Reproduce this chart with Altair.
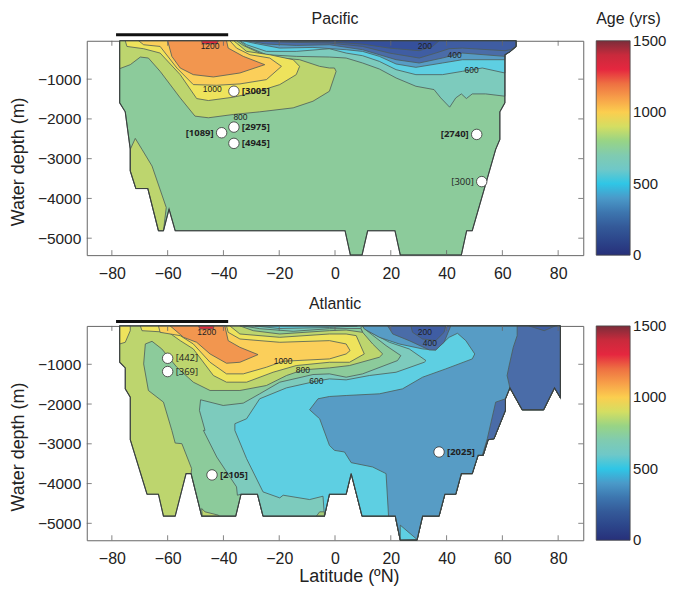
import altair as alt
import pandas as pd

XT = [-80, -60, -40, -20, 0, 20, 40, 60, 80]
YT = [-1000, -2000, -3000, -4000, -5000]
XDOM = [-89, 89]
YDOM = [-5426, -35]

C_GREEN = "#8ccb9b"; C_YG = "#bdd56e"; C_YEL = "#eee35c"; C_LOR = "#fbcf5a"
C_ORG = "#f2964f"; C_RED = "#e62b3c"; C_TEAL = "#7dcbbd"; C_CYAN = "#5ecfe2"
C_BLUE = "#579cc5"; C_B3 = "#4a6ca8"; C_B2 = "#3f5da3"; C_B1 = "#35509c"

BAR_STOPS = [0, 250, 400, 500, 600, 700, 850, 950, 1050, 1150, 1300, 1400, 1500]
BAR_COLS = ["#27307a", "#3a64a0", "#4a9ac9", "#2fc6e6", "#6fc8c8", "#80cbb0", "#b5d46b",
            "#f7e75a", "#fbb54a", "#f08a4b", "#e5273f", "#c92a3c", "#7b2d3a"]
BAR_TICKS = [0, 500, 1000, 1500]

# ---------- Pacific ----------
PR = [(60.9, -386), (62.9, -302), (64.9, -177), (64.9, -35)]
P_OUT = [(-77.2, -35), (-77.2, -1596), (-75.2, -1822), (-73.4, -2767), (-73.4, -3310), (-71.4, -3752),
         (-67.1, -3752), (-63.3, -4813), (-61.5, -4813), (-59.5, -4270), (-57.3, -4813), (3.6, -4813),
         (5.5, -5422), (9.7, -5422), (11.7, -4813), (21.5, -4813), (23.4, -5422), (45.3, -5422),
         (47.2, -4813), (49.2, -4813), (57.6, -2767), (59.1, -2515), (59.1, -1822), (60.9, -1596)] + PR
P_YG_LOW = [(-73.4, -2767), (-71.6, -2490), (-69.2, -2767), (-65.6, -3185), (-60.5, -4228), (-61.5, -4813),
            (-63.3, -4813), (-67.1, -3752), (-71.4, -3752), (-73.4, -3310)]
P_TEAL = [(-34.3, -35), (-31.7, -177), (-24.6, -385), (-13.9, -427), (-2, -444), (4, -469), (9.9, -594),
          (15.9, -745), (21.9, -970), (29, -1179), (35.5, -1262), (37.9, -1471), (41.1, -1705), (43.3, -1471),
          (45.3, -1371), (47.1, -1488), (49.2, -1371), (54, -1371), (60.9, -1429)] + PR
P_CYAN = [(-33.9, -35), (-31.7, -135), (-24.6, -302), (-13.9, -302), (-2, -235), (4, -344), (9.9, -411),
          (15.9, -553), (21.9, -761), (29, -887), (38.5, -887), (45.7, -803), (52.8, -720), (60.9, -845)] + PR
P_BLUE = [(-32.9, -35), (-29.3, -93), (-19.8, -219), (-7.9, -202), (4, -260), (9.9, -302), (15.9, -427),
          (21.9, -619), (29, -703), (38.5, -594), (45.7, -511), (60.9, -511)] + PR
P_B3 = [(-31.7, -35), (-24.6, -118), (-13.9, -152), (-2, -135), (9.9, -260), (21.9, -511), (30.2, -594),
        (38.5, -469), (45.7, -344), (60.9, -427)] + PR
P_B2 = [(-29.3, -35), (-19.8, -68), (-2, -93), (9.9, -177), (19.5, -344), (30.2, -469), (36.1, -344),
        (40.9, -235), (45.7, -219), (60.9, -285), (62.9, -260), (64.9, -177), (64.9, -35)]
P_B1 = [(-28.2, -35), (-2, -60), (9.9, -120), (19.5, -219), (30.2, -285), (35, -177), (37.3, -35)]
P_YG = [(-77.2, -35), (-77.2, -736), (-73.4, -636), (-69.8, -444), (-66.9, -469), (-62.7, -803), (-55.5, -1471),
        (-50.2, -1930), (-45.4, -1972), (-36.5, -1889), (-27, -1822), (-15, -1722), (-7.9, -1555), (-2, -1304),
        (0.4, -803), (-0.2, -720), (-2, -720), (-5.5, -678), (-12.7, -511), (-19.8, -469), (-27, -344),
        (-32.9, -152), (-35.3, -35)]
P_YEL = [(-75.2, -35), (-74.6, -177), (-68.6, -235), (-62.7, -344), (-55.5, -887), (-49.6, -1488), (-45.4, -1538),
         (-36.5, -1454), (-29.3, -1346), (-19.8, -1137), (-13.9, -887), (-12.7, -678), (-15, -511), (-23.4, -386),
         (-31.7, -302), (-35.3, -93), (-36.3, -35)]
P_LOR = [(-70.4, -35), (-68.6, -135), (-62.7, -177), (-56.7, -720), (-50.8, -1137), (-42.4, -1154), (-34.1, -1120),
         (-24.6, -1012), (-19.2, -678), (-23.4, -469), (-30.5, -386), (-35.3, -219), (-37.7, -35)]
P_ORG = [(-60, -35), (-58.5, -427), (-55.5, -720), (-50.8, -887), (-43.6, -945), (-34.1, -845), (-25.2, -636),
         (-32.9, -427), (-38.3, -219), (-38.9, -35)]
P_RED = [(-47.8, -35), (-47.6, -110), (-42.4, -110), (-41.8, -35)]
P_POLYS = [(P_OUT, C_GREEN), (P_YG_LOW, C_YG), (P_TEAL, C_TEAL), (P_CYAN, C_CYAN), (P_BLUE, C_BLUE), (P_B3, C_B3),
           (P_B2, C_B2), (P_B1, C_B1), (P_YG, C_YG), (P_YEL, C_YEL), (P_LOR, C_LOR), (P_ORG, C_ORG), (P_RED, C_RED)]
P_CIRC = [(-36.25, -1304, "[3005]", "r", "bold"), (-36.25, -2206, "[2975]", "r", "bold"),
          (-40.65, -2348, "[1089]", "l", "bold"), (-36.25, -2615, "[4945]", "r", "bold"),
          (50.8, -2390, "[2740]", "l", "bold"), (52.6, -3577, "[300]", "l", "normal")]
P_LAB = [(-44.8, -177, "1200"), (-44, -1237, "1000"), (-33.9, -1950, "800"),
         (32.2, -177, "200"), (42.9, -402, "400"), (49, -778, "600")]

# ---------- Atlantic ----------
AR = [(80.8, -35), (80.8, -1843), (78.7, -1593), (74.8, -2144), (67.1, -2144), (62.7, -1593), (61.1, -1869),
      (61.1, -2161), (58.2, -2663), (57, -2872), (54.9, -2897), (53.1, -3290), (51.3, -3290), (49.2, -3750),
      (45.3, -3750), (43.3, -4268), (39.4, -4268), (37.3, -4820), (31.4, -4820), (29.4, -5422), (23.4, -5422),
      (21.6, -4820)]
AM1 = [(9.7, -4820), (5.8, -3750), (4, -4268), (-2, -4268)]
AM2 = [(-3.8, -4820), (-25.8, -4820), (-27.8, -4268), (-33.7, -4268)]
AM3 = [(-35.6, -4820), (-47.8, -4820), (-51.6, -3750)]
AM4 = [(-53.4, -3750), (-57.3, -4820), (-61.5, -4820), (-63.3, -4268), (-67.4, -4268), (-73.4, -2897), (-73.4, -1827),
       (-75.2, -1618), (-75.2, -1091), (-77.2, -949), (-77.2, -35)]
A_OUT = AR + AM1 + AM2 + AM3 + AM4
A_GREEN = [(-51.4, -3624), (-54.9, -2997), (-57.3, -2981), (-58.5, -2663), (-61.5, -1952), (-66.9, -1659), (-68.6, -991),
           (-68, -489), (-65.6, -422), (-62.1, -614), (-56.7, -1074), (-50.8, -1450), (-44.8, -1659), (-34.1, -1659),
           (-24.6, -1534), (-17.4, -1283), (-11.5, -1141), (-2, -1091), (5.2, -1032), (15.9, -823), (17.1, -740),
           (13.5, -489), (9.9, -196), (8.8, -35)] + AR + AM1 + AM2 + AM3
A_TEAL = [(-35, -4293), (-35.3, -4084), (-42.4, -3332), (-47.2, -2663), (-46.6, -2663), (-48.6, -2161), (-48.2, -1893),
          (-40.1, -2036), (-32.9, -1977), (-27, -1743), (-19.8, -1450), (-7.9, -1258), (-2, -1241), (4, -1325),
          (9.9, -1241), (22.4, -907), (23.6, -782), (18.3, -531), (11.1, -138), (9.9, -35)] + AR + AM1 + AM2
A_CYAN = [(-3.8, -4820), (-4.3, -4318), (-9.1, -4402), (-18.6, -4293), (-19.8, -4360), (-25.8, -4210), (-31.7, -3374),
          (-35.9, -2663), (-35.9, -2495), (-31.7, -2370), (-27, -1868), (-17.4, -1593), (-6.7, -1425), (-2, -1367),
          (4, -1392), (12.3, -1283), (21.9, -1200), (32, -949), (32.6, -907), (26.6, -614), (19.5, -447), (11.7, -155),
          (10.5, -35)] + AR + AM1
A_BLUE = [(19.2, -4820), (18.3, -3750), (13.5, -3583), (5.8, -3474), (3.4, -3206), (-0.2, -3165), (-2, -3039),
          (-5.5, -2370), (-9.1, -2144), (-6.1, -1868), (-2, -1810), (4, -1785), (15.9, -1743), (24.2, -1618),
          (31.4, -1325), (39.7, -1116), (49.2, -865), (50.1, -740), (46.9, -405), (43.9, -221), (40.9, -322),
          (36.1, -640), (31.4, -614), (23, -489), (15.9, -322), (10.5, -113), (9.9, -35)] + AR
A_TRI = [(23.4, -5046), (29.4, -5405), (23.4, -5422)]
A_SPOT = [(-5.5, -4711), (-3.8, -4711), (-3.8, -4820), (-6.7, -4820)]
A_NORTH = [(65.3, -35), (65.3, -280), (63.9, -573), (62.3, -1074), (61.7, -1283), (62.7, -1593), (67.1, -2144),
           (74.8, -2144), (78.7, -1593), (80.8, -1843), (80.8, -35)]
A_NORTH2 = [(69.5, -35), (75, -155), (79, -35)]
A_SLIVER = [(61.1, -1869), (57.6, -1952), (54.6, -2872), (52.8, -3290), (53.1, -3290), (54.9, -2897), (57, -2872),
            (58.2, -2663), (61.1, -2161)]
A_B3 = [(18.9, -35), (20.7, -238), (26.6, -405), (33.8, -640), (36.1, -640), (39.1, -447), (41.5, -35)]
A_B2 = [(27.2, -35), (27.8, -196), (31.4, -364), (36.1, -405), (39.1, -196), (39.7, -35)]
A_S_GREEN = [(-34.1, -35), (-29.3, -155), (-19.8, -238), (-2, -155), (4, -138), (9.9, -196), (8.8, -35)]
A_S_TEAL = [(-32.9, -35), (-27, -105), (-15, -170), (-2, -105), (9, -100), (10, -35)]
A_S_CYAN = [(-28.7, -35), (-20, -100), (-2, -75), (8, -35)]
A_YEL = [(-69.8, -35), (-69.2, -155), (-59.7, -196), (-55.5, -405), (-50.8, -614), (-43.6, -1283), (-38.9, -1450),
         (-31.7, -1450), (-22.2, -1200), (-13.9, -1032), (-2, -949), (5.2, -949), (10.5, -740), (7.6, -280), (4, -238),
         (-2, -238), (-19.8, -322), (-34.1, -238), (-37.7, -35)]
A_LOR = [(-63.3, -35), (-62.7, -196), (-55.5, -280), (-50.8, -489), (-44.8, -949), (-38.9, -1241), (-32.9, -1241),
         (-24.6, -1074), (-18.6, -924), (-2, -865), (4, -740), (5.4, -656), (4, -489), (-2, -405), (-19.8, -447),
         (-34.1, -364), (-38.3, -196), (-38.9, -35)]
A_ORG = [(-59.1, -35), (-54.3, -322), (-49.6, -447), (-44.8, -740), (-38.9, -974), (-34.1, -949), (-27.6, -757),
         (-34.1, -573), (-38.3, -405), (-39.5, -35)]
A_RED = [(-49, -35), (-48.4, -113), (-43.6, -113), (-43.4, -35)]
A_SPOTY = [(-77.2, -35), (-77.2, -489), (-75.2, -447), (-73.4, -155), (-73.4, -35)]
A_BOTY = [(-47.8, -4628), (-46.6, -4711), (-41.8, -4795), (-41.5, -4820), (-47.6, -4820)]
A_POLYS = [(A_OUT, C_YG), (A_GREEN, C_GREEN), (A_BOTY, C_YG), (A_TEAL, C_TEAL), (A_CYAN, C_CYAN), (A_SPOT, "#a4cc77"),
           (A_BLUE, C_BLUE), (A_TRI, C_CYAN), (A_NORTH, C_B3), (A_NORTH2, C_B2), (A_SLIVER, C_B3),
           (A_S_GREEN, C_GREEN), (A_S_TEAL, C_TEAL), (A_S_CYAN, C_CYAN), (A_B3, C_B3), (A_B2, C_B2),
           (A_SPOTY, C_YEL), (A_YEL, C_YEL), (A_LOR, C_LOR), (A_ORG, C_ORG), (A_RED, C_RED)]
A_CIRC = [(-60, -849, "[442]", "r", "normal"), (-60, -1183, "[369]", "r", "normal"),
          (-44.1, -3783, "[2105]", "r", "bold"), (37.3, -3206, "[2025]", "r", "bold")]
A_LAB = [(-46, -180, "1200"), (-18.6, -907, "1000"), (-11.5, -1141, "800"), (-6.7, -1425, "600"),
         (32.2, -196, "200"), (34, -472, "400")]

FONT = "Liberation Sans"
TXT = "#222222"
W, H = 498, 215
xs = alt.Scale(domain=XDOM, nice=False, zero=False)
ys = alt.Scale(domain=YDOM, nice=False, zero=False)


def panel(polys, outline, circ, labs, title, xtitle, bar_y, legend, cbar_title):
    axx = alt.Axis(values=XT, title=xtitle, grid=False, ticks=False, domain=False, labelFontSize=16, labelFont=FONT,
                   labelColor=TXT, labelPadding=10, format="d", titleFont=FONT, titleFontSize=18,
                   titleFontWeight="normal", titleColor=TXT, titlePadding=1, titleX=263)
    axy = alt.Axis(values=YT, title="Water depth (m)", grid=False, ticks=False, domain=False, labelFontSize=15.5,
                   labelFont=FONT, labelColor=TXT, labelPadding=6, format="d", titleFont=FONT, titleFontSize=18,
                   titleFontWeight="normal", titleColor=TXT, titlePadding=10, titleY=121)
    X = lambda f: alt.X(f, scale=xs, axis=axx)
    Y = lambda f: alt.Y(f, scale=ys, axis=axy)
    layers = []
    for p, c in polys:
        df = pd.DataFrame(p, columns=["lat", "dep"])
        df["i"] = range(len(df))
        layers.append(alt.Chart(df).mark_line(interpolate="linear-closed", fill=c, stroke="#4d5c58",
                                              strokeWidth=0.8).encode(x=X("lat:Q"), y=Y("dep:Q"), order="i:Q"))
    odf = pd.DataFrame(outline + outline[:1], columns=["lat", "dep"])
    odf["i"] = range(len(odf))
    layers.append(alt.Chart(odf).mark_line(stroke="#3a3f3e", strokeWidth=1.1).encode(
        x=X("lat:Q"), y=Y("dep:Q"), order="i:Q"))
    tx = pd.DataFrame({"v": XT})
    ty = pd.DataFrame({"v": YT})
    tk = dict(color="#666666", strokeWidth=0.8)
    layers += [
        alt.Chart(tx).mark_rule(**tk).encode(x=X("v:Q"), y=alt.value(H), y2=alt.value(H - 5)),
        alt.Chart(tx).mark_rule(**tk).encode(x=X("v:Q"), y=alt.value(0), y2=alt.value(5)),
        alt.Chart(ty).mark_rule(**tk).encode(y=Y("v:Q"), x=alt.value(0), x2=alt.value(5)),
        alt.Chart(ty).mark_rule(**tk).encode(y=Y("v:Q"), x=alt.value(W), x2=alt.value(W - 5)),
    ]
    layers.append(alt.Chart(pd.DataFrame({"a": [-78.5], "b": [-38.3]})).mark_rule(
        color="#111111", strokeWidth=3, clip=False).encode(x=X("a:Q"), x2="b:Q", y=alt.value(bar_y)))
    ldf = pd.DataFrame(labs, columns=["lat", "dep", "t"])
    layers.append(alt.Chart(ldf).mark_text(fontSize=8.5, font=FONT, color=TXT).encode(
        x=X("lat:Q"), y=Y("dep:Q"), text="t:N"))
    cdf = pd.DataFrame(circ, columns=["lat", "dep", "t", "side", "w"])
    layers.append(alt.Chart(cdf).mark_point(filled=True, fill="white", stroke="#333333", strokeWidth=0.8,
                                            size=110, opacity=1).encode(x=X("lat:Q"), y=Y("dep:Q")))
    for side, align, dx in (("r", "left", 8), ("l", "right", -8)):
        for w in ("bold", "normal"):
            sub = cdf[(cdf.side == side) & (cdf.w == w)]
            if len(sub):
                layers.append(alt.Chart(sub).mark_text(align=align, dx=dx, fontSize=9.5, fontWeight=w,
                                                       font="Open Sans", color=TXT).encode(
                    x=X("lat:Q"), y=Y("dep:Q"), text="t:N"))
    # panel title and colour-bar title
    layers.append(alt.Chart(pd.DataFrame({"t": [title]})).mark_text(
        fontSize=16, font=FONT, color=TXT, align="center", clip=False).encode(
        x=alt.value(W / 2), y=alt.value(-22), text="t:N"))
    if cbar_title:
        layers.append(alt.Chart(pd.DataFrame({"t": [cbar_title]})).mark_text(
            fontSize=16, font=FONT, color=TXT, align="left", clip=False).encode(
            x=alt.value(511), y=alt.value(-22), text="t:N"))
    # colour-bar tick labels, placed along the bar by their value
    for v in BAR_TICKS:
        layers.append(alt.Chart(pd.DataFrame({"t": [str(v)]})).mark_text(
            fontSize=15, font=FONT, color=TXT, align="left", clip=False).encode(
            x=alt.value(548), y=alt.value(H * (1 - v / 1500)), text="t:N"))
    # colour bar: a gradient legend drawn from a colour scale
    layers.append(alt.Chart(pd.DataFrame({"v": [0, 1500]})).mark_point(opacity=0).encode(
        x=alt.value(0), y=alt.value(0),
        color=alt.Color("v:Q", scale=alt.Scale(domain=BAR_STOPS, range=BAR_COLS), legend=legend)))
    return alt.layer(*layers).properties(width=W, height=H)


LEG = alt.Legend(title=None, orient="none", direction="vertical", gradientLength=H, gradientThickness=34,
                 labelExpr="''", gradientStrokeColor="#444444", gradientStrokeWidth=0.8, legendX=511, legendY=0)

top = panel(P_POLYS, P_OUT, P_CIRC, P_LAB, "Pacific", None, -6, LEG, "Age (yrs)")
bot = panel(A_POLYS, A_OUT, A_CIRC, A_LAB, "Atlantic", "Latitude (ºN)", -4.5, LEG, None)

chart = alt.vconcat(top, bot, spacing=13).resolve_scale(color="independent").configure_view(
    stroke="#666666", strokeWidth=1
).properties(padding={"left": 0, "top": 1, "right": 0, "bottom": 0})
chart.save("out.html", embed_options={"renderer": "svg", "actions": False})
